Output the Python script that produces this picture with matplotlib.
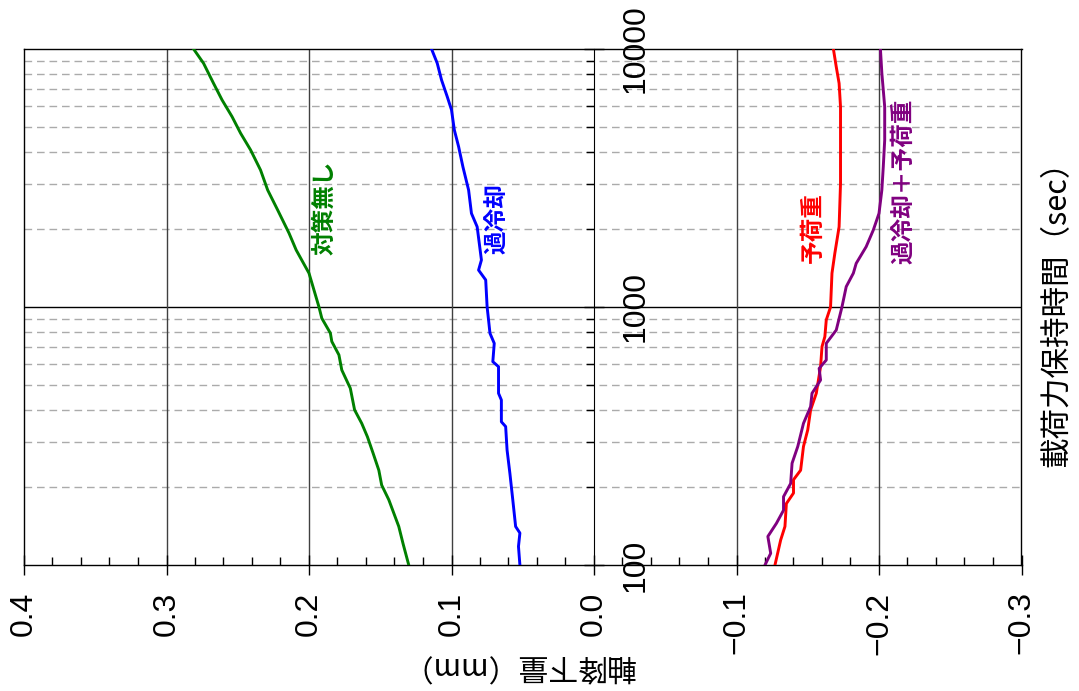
import numpy as np
import matplotlib
matplotlib.use("Agg")
import matplotlib.pyplot as plt
from matplotlib.ticker import FixedLocator, NullFormatter

# hold time (sec) and axial settlement (mm)
t_none = [100, 121, 141, 179, 204, 233, 271, 314, 354, 399, 484, 570, 652, 735, 792, 904, 1000,
          1352, 1663, 1932, 2377, 2840, 3394, 4062, 4715, 5467, 6344, 7362, 8803, 10000]
d_none = [0.130, 0.134, 0.137, 0.144, 0.149, 0.151, 0.155, 0.159, 0.163, 0.168, 0.171, 0.177, 0.179,
          0.184, 0.185, 0.191, 0.193, 0.200, 0.209, 0.214, 0.222, 0.229, 0.234, 0.241, 0.248, 0.254,
          0.261, 0.267, 0.274, 0.281]

t_cool = [100, 118, 133, 141, 179, 226, 279, 344, 359, 436, 463, 587, 614, 723, 791, 891, 1000,
          1273, 1390, 1521, 2046, 2306, 2840, 3496, 4181, 4852, 5808, 6538, 7586, 8803, 10000]
d_cool = [0.052, 0.053, 0.052, 0.055, 0.057, 0.059, 0.061, 0.062, 0.065, 0.065, 0.067, 0.067, 0.071,
          0.070, 0.073, 0.074, 0.075, 0.076, 0.081, 0.079, 0.082, 0.086, 0.088, 0.092, 0.095, 0.098,
          0.100, 0.103, 0.107, 0.110, 0.114]

t_load = [100, 125, 141, 173, 190, 214, 233, 288, 334, 399, 463, 587, 702, 767, 891, 1000,
          1352, 1614, 2046, 3013, 4062, 5970, 7362, 8530, 10000]
d_load = [-0.127, -0.131, -0.134, -0.135, -0.140, -0.140, -0.145, -0.147, -0.150, -0.152, -0.156,
          -0.159, -0.160, -0.162, -0.163, -0.166, -0.167, -0.169, -0.172, -0.173, -0.173, -0.173,
          -0.172, -0.170, -0.168]

t_both = [100, 111, 129, 145, 163, 184, 207, 248, 288, 354, 411, 463, 521, 578, 623, 723, 814, 1000,
          1199, 1352, 1476, 1713, 1987, 2306, 2840, 3496, 4436, 5970, 8054, 10000]
d_both = [-0.120, -0.124, -0.122, -0.128, -0.133, -0.133, -0.138, -0.139, -0.143, -0.147, -0.152,
          -0.153, -0.159, -0.158, -0.163, -0.163, -0.170, -0.174, -0.177, -0.182, -0.184, -0.191,
          -0.196, -0.200, -0.202, -0.203, -0.204, -0.204, -0.202, -0.201]

x_ticks = [0.4, 0.3, 0.2, 0.1, 0.0, -0.1, -0.2, -0.3]
x_ticklabels = ['0.4', '0.3', '0.2', '0.1', '0.0', '\u22120.1', '\u22120.2', '\u22120.3']
y_ticks = [100, 1000, 10000]
y_ticklabels = ['100', '1000', '10000']

num_font = ['Liberation Sans Narrow', 'Liberation Sans', 'DejaVu Sans']
jp_font = ['Noto Sans CJK JP', 'DejaVu Sans']

fig = plt.figure(figsize=(10.79, 6.91), dpi=100)
ax = fig.add_axes([24 / 1079, 1 - 565 / 691, 997.5 / 1079, 516 / 691])

ax.set_yscale('log')
ax.set_xlim(0.4, -0.3)
ax.set_ylim(100, 10000)

# grid
minor_t = [m * 10 ** e for e in (2, 3) for m in range(2, 10)]
for t in minor_t:
    ax.axhline(t, color='#ababab', lw=1, ls=(0, (5.5, 3.5)), zorder=1)
ax.axhline(1000, color='black', lw=1, zorder=1)
for x in [0.3, 0.2, 0.1, -0.1, -0.2]:
    ax.axvline(x, color='#404040', lw=1, zorder=1)

ax.plot(d_none, t_none, color='#008000', lw=2.1, zorder=3)
ax.plot(d_cool, t_cool, color='#0000ff', lw=2.1, zorder=3)
ax.plot(d_load, t_load, color='#ff0000', lw=2.1, zorder=3)
ax.plot(d_both, t_both, color='#800080', lw=2.1, zorder=3)

# curve labels
lab_kw = dict(rotation=90, ha='center', va='center', fontsize=17, fontweight='bold', family=jp_font)
ax.text(0.1895, 2432, '対策無し', color='#008000', **lab_kw)
ax.text(0.0677, 2208, '過冷却', color='#0000ff', **lab_kw)
ax.text(-0.1537, 2032, '予荷重', color='#ff0000', **lab_kw)
ax.text(-0.2168, 3076, '過冷却＋予荷重', color='#800080', **lab_kw)

# frame + time axis at x = 0
for s in ['top', 'right', 'bottom']:
    ax.spines[s].set_linewidth(1)
ax.spines['left'].set_position(('data', 0))
ax.plot([0, 0], [0, 1], transform=ax.transAxes, color='black', lw=1, clip_on=False)

ax.yaxis.set_major_locator(FixedLocator(y_ticks))
ax.yaxis.set_minor_locator(FixedLocator(minor_t))
ax.yaxis.set_major_formatter(NullFormatter())
ax.yaxis.set_minor_formatter(NullFormatter())
ax.tick_params(axis='y', which='major', direction='inout', length=14, width=1)
ax.tick_params(axis='y', which='minor', direction='out', length=6, width=1)
for t, lab in zip(y_ticks, y_ticklabels):
    ax.text(-0.0295, t, lab, rotation=90, ha='center', va='center', fontsize=23, family=num_font)

ax.xaxis.set_major_locator(FixedLocator(x_ticks))
ax.xaxis.set_minor_locator(FixedLocator(np.arange(-0.3, 0.401, 0.02)))
ax.set_xticklabels(x_ticklabels, rotation=90, fontsize=23, family=num_font)
ax.tick_params(axis='x', which='major', direction='inout', length=14, width=1, pad=12)
ax.tick_params(axis='x', which='minor', direction='in', length=6, width=1)

fig.text(1057 / 1079, 1 - 306 / 691, '載荷力保持時間（sec）', rotation=90, ha='center', va='center',
         fontsize=22, family=jp_font)
fig.text(518 / 1079, 1 - 665 / 691, '軸降下量（mm）', rotation=180, ha='center', va='center',
         fontsize=21.5, family=jp_font)

fig.savefig('out.png', dpi=100)
